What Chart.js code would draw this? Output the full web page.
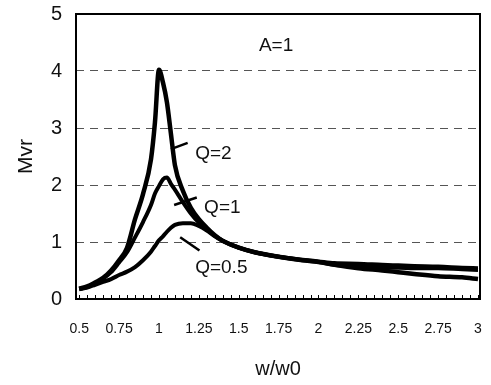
<!DOCTYPE html>
<html>
<head>
<meta charset="utf-8">
<script src="https://cdn.jsdelivr.net/npm/chart.js@4/dist/chart.umd.min.js"></script>
<style>
    html, body { margin: 0; padding: 0; background: #fff; }
    #wrap { width: 491px; height: 385px; }
</style>
</head>
<body>
<div id="wrap"><canvas id="mvr-chart" width="491" height="385"></canvas></div>
<script>
// normalised frequency w/w0, shared by all three curves
const wValues = [0.5, 0.55, 0.6, 0.65, 0.7, 0.75, 0.8, 0.85, 0.9, 0.95, 0.975, 1.0, 1.025, 1.05, 1.075, 1.1,
    1.15, 1.2, 1.25, 1.3, 1.35, 1.4, 1.5, 1.6, 1.75, 1.9, 2.0, 2.1, 2.25, 2.4, 2.5, 2.6, 2.75, 2.9, 3.0];

const mvrQ2 = [0.18, 0.22, 0.29, 0.37, 0.5, 0.68, 0.9, 1.4, 1.84, 2.45, 3.1, 4.02, 3.8, 3.45, 2.9, 2.35,
    1.9, 1.6, 1.4, 1.25, 1.12, 1.02, 0.9, 0.82, 0.74, 0.68, 0.65, 0.6, 0.54, 0.5, 0.47, 0.44, 0.4, 0.38, 0.35];
const mvrQ1 = [0.18, 0.21, 0.28, 0.36, 0.47, 0.64, 0.82, 1.08, 1.35, 1.65, 1.85, 1.98, 2.1, 2.13, 2.02, 1.92,
    1.7, 1.5, 1.34, 1.22, 1.11, 1.02, 0.9, 0.82, 0.74, 0.68, 0.65, 0.6, 0.57, 0.55, 0.55, 0.54, 0.54, 0.52, 0.51];
const mvrQ05 = [0.17, 0.2, 0.25, 0.3, 0.35, 0.42, 0.48, 0.56, 0.68, 0.83, 0.93, 1.03, 1.1, 1.18, 1.25, 1.3,
    1.33, 1.33, 1.28, 1.2, 1.1, 1.02, 0.9, 0.82, 0.74, 0.69, 0.66, 0.63, 0.62, 0.6, 0.59, 0.58, 0.57, 0.55, 0.54];

const xTicks = [0.5, 0.75, 1, 1.25, 1.5, 1.75, 2, 2.25, 2.5, 2.75, 3];
const yTicks = [0, 1, 2, 3, 4, 5];

// text labels and leader lines, in data units
const notes = [
    { text: "A=1", x: 1.734, y: 4.44, align: "center" },
    { text: "Q=2", x: 1.227, y: 2.54, align: "left", from: [1.075, 2.63], to: [1.18, 2.74] },
    { text: "Q=1", x: 1.283, y: 1.6, align: "left", from: [1.095, 1.65], to: [1.237, 1.78] },
    { text: "Q=0.5", x: 1.227, y: 0.54, align: "left", from: [1.133, 1.085], to: [1.254, 0.85] },
];

const FONT = "'Liberation Sans', Arial, sans-serif";

function points(ys) {
    return wValues.map((w, i) => ({ x: w, y: ys[i] }));
}

function curve(label, ys, width) {
    return {
        label,
        data: points(ys),
        borderColor: "#000",
        borderWidth: width,
        pointRadius: 0,
        fill: false,
        cubicInterpolationMode: "monotone",
    };
}

const frameAndNotes = {
    id: "frameAndNotes",
    afterDraw(chart) {
        const { ctx, chartArea: a, scales: { x, y } } = chart;
        ctx.save();

        // small ticks along the bottom, pointing into the plot
        ctx.strokeStyle = "#000";
        ctx.lineWidth = 1;
        for (let i = 0; i <= 50; i++) {
            const px = Math.round(x.getPixelForValue(0.5 + i * 0.05)) + 0.5;
            ctx.beginPath();
            ctx.moveTo(px, a.bottom);
            ctx.lineTo(px, a.bottom - 4);
            ctx.stroke();
        }

        ctx.lineWidth = 2;
        ctx.strokeRect(a.left, a.top, a.right - a.left, a.bottom - a.top);

        ctx.fillStyle = "#111";
        ctx.font = `19px ${FONT}`;
        ctx.textBaseline = "middle";
        notes.forEach((n) => {
            ctx.textAlign = n.align;
            ctx.fillText(n.text, x.getPixelForValue(n.x), y.getPixelForValue(n.y));
            if (n.from) {
                ctx.lineWidth = 2.5;
                ctx.beginPath();
                ctx.moveTo(x.getPixelForValue(n.from[0]), y.getPixelForValue(n.from[1]));
                ctx.lineTo(x.getPixelForValue(n.to[0]), y.getPixelForValue(n.to[1]));
                ctx.stroke();
            }
        });
        ctx.restore();
    },
};

new Chart(document.getElementById("mvr-chart"), {
    type: "line",
    data: {
        datasets: [curve("Q=2", mvrQ2, 4.5), curve("Q=1", mvrQ1, 4), curve("Q=0.5", mvrQ05, 4)],
    },
    options: {
        responsive: false,
        animation: false,
        layout: { padding: { top: 14, right: 11, left: 0, bottom: 0 } },
        plugins: { legend: { display: false }, tooltip: { enabled: false } },
        scales: {
            x: {
                type: "linear",
                min: 0.48,
                max: 3.0125,
                afterBuildTicks: (s) => { s.ticks = xTicks.map((v) => ({ value: v })); },
                afterFit: (s) => { s.height = 86; s.paddingLeft = 0; s.paddingRight = 0; },
                grid: { display: false, drawTicks: false },
                border: { display: false },
                ticks: {
                    padding: 22,
                    color: "#111",
                    font: { family: FONT, size: 14 },
                    maxRotation: 0,
                    autoSkip: false,
                    callback: (v) => String(v),
                },
                title: { display: true, text: "w/w0", color: "#111", font: { family: FONT, size: 20 }, padding: { top: 8 } },
            },
            y: {
                min: 0,
                max: 5,
                afterBuildTicks: (s) => { s.ticks = yTicks.map((v) => ({ value: v })); },
                afterFit: (s) => { s.width = 76; s.paddingTop = 0; s.paddingBottom = 0; },
                grid: {
                    drawTicks: false,
                    lineWidth: 1,
                    color: (c) => (c.tick && c.tick.value > 0 && c.tick.value < 5 ? "#555" : "rgba(0,0,0,0)"),
                },
                border: { display: false, dash: [8, 6] },
                ticks: { padding: 14, color: "#111", font: { family: FONT, size: 20 } },
                title: { display: true, text: "Mvr", color: "#111", font: { family: FONT, size: 21 }, padding: { top: 14, bottom: 0 } },
            },
        },
    },
    plugins: [frameAndNotes],
});
</script>
</body>
</html>
